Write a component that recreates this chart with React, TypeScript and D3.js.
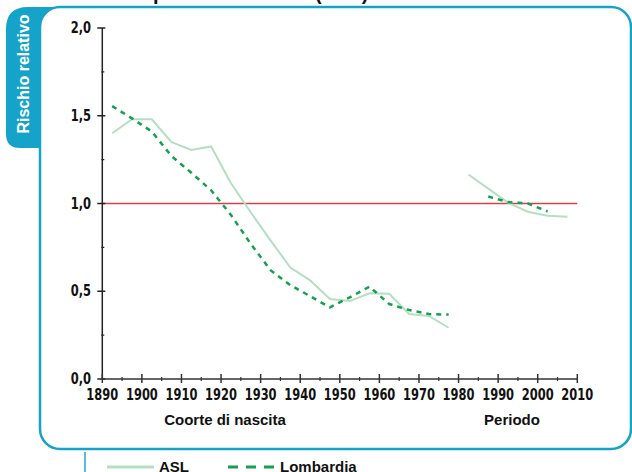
import React from "react";
import * as d3 from "d3";

const cohortYears = [1892.5, 1897.5, 1902.5, 1907.5, 1912.5, 1917.5, 1922.5, 1927.5, 1932.5, 1937.5, 1942.5, 1947.5, 1952.5, 1957.5, 1962.5, 1967.5, 1972.5, 1977.5];
const cohortASL = [1.4, 1.48, 1.48, 1.35, 1.305, 1.325, 1.115, 0.95, 0.79, 0.635, 0.562, 0.456, 0.444, 0.488, 0.486, 0.37, 0.359, 0.292];
const cohortLombardia = [1.555, 1.485, 1.41, 1.27, 1.175, 1.075, 0.935, 0.77, 0.62, 0.535, 0.472, 0.408, 0.465, 0.526, 0.427, 0.393, 0.37, 0.367];

const periodYearsASL = [1982.5, 1987.5, 1992.5, 1997.5, 2002.5, 2007.5];
const periodASL = [1.165, 1.085, 1.005, 0.953, 0.93, 0.925];
const periodYearsLombardia = [1987.5, 1992.5, 1997.5, 2002.5];
const periodLombardia = [1.04, 1.008, 1.0, 0.955];

const xTicks = [1890, 1900, 1910, 1920, 1930, 1940, 1950, 1960, 1970, 1980, 1990, 2000, 2010];
const yTicks = [0, 0.5, 1, 1.5, 2];
const yTickLabels = ["0,0", "0,5", "1,0", "1,5", "2,0"];
const referenceValue = 1;

const BLUE = "#15a3c9";
const ASL_COLOR = "#b4dfc2";
const LOMB_COLOR = "#14a04c";
const RED = "#d3414f";
const AXIS = "#222";

export default function App() {
  const x = d3.scaleLinear().domain([1890, 2010]).range([102.3, 577.3]);
  const y = d3.scaleLinear().domain([0, 2]).range([379, 28]);
  const line = d3
    .line<[number, number]>()
    .x((d) => x(d[0]))
    .y((d) => y(d[1]));

  const zip = (a: number[], b: number[]) => a.map((v, i) => [v, b[i]] as [number, number]);

  const minorX = d3.range(1895, 2010, 10);
  const minorY = [0.25, 0.75, 1.25, 1.75];
  const tickFont = "'Liberation Sans Narrow', 'DejaVu Sans Condensed', sans-serif";
  const boldFont = "'Liberation Sans', Arial, sans-serif";

  return (
    <svg width={632} height={472} style={{ position: "absolute", left: 0, top: 0, background: "#fff" }}>
      {/* cut-off title */}
      <text x={84} y={0} fontFamily={boldFont} fontWeight="bold" fontSize={20} fill="#111">
        Effetto periodo e coorte (ASL)
      </text>
      {/* tab */}
      <path
        d="M6,148 L6,29 Q6,7 28,7 L60,7 L60,148 L20,148 Q6,148 6,134 Z"
        fill={BLUE}
      />
      {/* panel */}
      <rect x={40} y={7} width={591} height={442} rx={20} ry={20} fill="#fff" stroke={BLUE} strokeWidth={2.5} />
      <text
        transform="translate(29,74) rotate(-90)"
        textAnchor="middle"
        fontFamily={boldFont}
        fontWeight="bold"
        fontSize={16}
        fill="#fff"
      >
        Rischio relativo
      </text>

      {/* reference line */}
      <line x1={x(1890)} x2={x(2010)} y1={y(referenceValue)} y2={y(referenceValue)} stroke={RED} strokeWidth={1.5} />

      {/* series */}
      <path d={line(zip(cohortYears, cohortASL)) || ""} fill="none" stroke={ASL_COLOR} strokeWidth={2} />
      <path d={line(zip(periodYearsASL, periodASL)) || ""} fill="none" stroke={ASL_COLOR} strokeWidth={2} />
      <path d={line(zip(cohortYears, cohortLombardia)) || ""} fill="none" stroke={LOMB_COLOR} strokeWidth={2.5} strokeDasharray="5,5" />
      <path d={line(zip(periodYearsLombardia, periodLombardia)) || ""} fill="none" stroke={LOMB_COLOR} strokeWidth={2.5} strokeDasharray="5,5" />

      {/* y axis */}
      <line x1={x(1890)} x2={x(1890)} y1={y(2)} y2={y(0)} stroke={AXIS} strokeWidth={1.5} />
      {yTicks.map((t, i) => (
        <g key={"yt" + t}>
          <line x1={x(1890) - 5} x2={x(1890) + 3} y1={y(t)} y2={y(t)} stroke={AXIS} strokeWidth={1.5} />
          <text
            transform={`translate(91,${y(t) + 5}) scale(0.85,1.05)`}
            textAnchor="end"
            fontFamily={tickFont}
            fontWeight="bold"
            fontSize={15}
            fill="#111"
          >
            {yTickLabels[i]}
          </text>
        </g>
      ))}
      {minorY.map((t) => (
        <line key={"ym" + t} x1={x(1890) - 1} x2={x(1890) + 2} y1={y(t)} y2={y(t)} stroke={AXIS} strokeWidth={1.2} />
      ))}

      {/* x axis */}
      <line x1={x(1890)} x2={x(2010)} y1={y(0)} y2={y(0)} stroke="#333" strokeWidth={1.5} />
      {xTicks.map((t) => (
        <g key={"xt" + t}>
          <line x1={x(t)} x2={x(t)} y1={y(0) - 5} y2={y(0) + 4} stroke="#333" strokeWidth={1.5} />
          <text
            transform={`translate(${x(t)},400) scale(0.85,1.05)`}
            textAnchor="middle"
            fontFamily={tickFont}
            fontWeight="bold"
            fontSize={15}
            fill="#111"
          >
            {t}
          </text>
        </g>
      ))}
      {minorX.map((t) => (
        <line key={"xm" + t} x1={x(t)} x2={x(t)} y1={y(0) - 2} y2={y(0) + 2} stroke="#333" strokeWidth={1.2} />
      ))}

      <text x={225} y={425} textAnchor="middle" fontFamily={boldFont} fontWeight="bold" fontSize={15} fill="#111">
        Coorte di nascita
      </text>
      <text x={512} y={425} textAnchor="middle" fontFamily={boldFont} fontWeight="bold" fontSize={15} fill="#111">
        Periodo
      </text>

      {/* legend */}
      <line x1={85} x2={85} y1={452} y2={472} stroke="#5cbcd8" strokeWidth={2} />
      <line x1={107} x2={154} y1={467} y2={467} stroke={ASL_COLOR} strokeWidth={3} />
      <text x={159} y={472} fontFamily={boldFont} fontWeight="bold" fontSize={15} fill="#111">
        ASL
      </text>
      <line x1={228} x2={274} y1={467} y2={467} stroke={LOMB_COLOR} strokeWidth={3} strokeDasharray="10,8" />
      <text x={280} y={472} fontFamily={boldFont} fontWeight="bold" fontSize={15} fill="#111">
        Lombardia
      </text>
    </svg>
  );
}
